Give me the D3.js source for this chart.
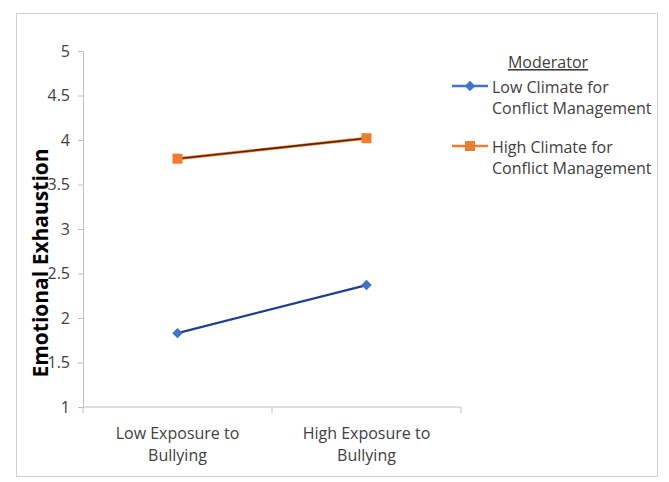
<!DOCTYPE html>
<html>
<head>
<meta charset="utf-8">
<script src="https://cdn.jsdelivr.net/npm/d3@7"></script>
<style>
  body { margin: 0; background: #fff; }
  text { font-family: "Open Sans", "Noto Sans", sans-serif; }
</style>
</head>
<body>
<script>
// Chart data
var categories = ["Low Exposure to Bullying", "High Exposure to Bullying"];
var categoryLines = [["Low Exposure to", "Bullying"], ["High Exposure to", "Bullying"]];
var seriesNames = ["Low Climate for Conflict Management", "High Climate for Conflict Management"];
var seriesLabelLines = [["Low Climate for", "Conflict Management"], ["High Climate for", "Conflict Management"]];
var lowClimate = [1.83, 2.37];
var highClimate = [3.79, 4.02];
var yTicks = [1, 1.5, 2, 2.5, 3, 3.5, 4, 4.5, 5];

(function(){
    var width = 669, height = 482;

    var svg = d3.select('body').append('svg')
        .attr('width', width)
        .attr('height', height);

    // outer chart frame
    svg.append('rect')
        .attr('x', 16.5).attr('y', 13.5)
        .attr('width', 641).attr('height', 463)
        .attr('fill', '#fff')
        .attr('stroke', '#d0d0d0');

    var plot = {left: 83, right: 461, top: 51, bottom: 407};

    var x = d3.scaleBand().domain(categories).range([plot.left, plot.right]);
    var y = d3.scaleLinear().domain([1, 5]).range([plot.bottom, plot.top]);

    // y axis
    var yAxis = svg.append('g')
        .attr('transform', 'translate(' + plot.left + ',0)')
        .call(d3.axisLeft(y).tickValues(yTicks).tickSize(5).tickPadding(8)
            .tickFormat(function(d){ return d; }));
    yAxis.select('.domain').attr('stroke', '#bfbfbf');
    yAxis.selectAll('.tick line').attr('stroke', '#bfbfbf');
    yAxis.selectAll('.tick text')
        .attr('font-size', 16)
        .attr('fill', '#404040')
        .style('font-family', '"Open Sans", sans-serif');

    // x axis with ticks between categories
    var xg = svg.append('g').attr('transform', 'translate(0,' + plot.bottom + ')');
    xg.append('line')
        .attr('x1', plot.left).attr('x2', plot.right)
        .attr('stroke', '#bfbfbf');
    var edges = [plot.left].concat(categories.map(function(c){ return x(c) + x.bandwidth(); }));
    xg.selectAll('.xtick').data(edges).enter().append('line')
        .attr('x1', function(d){ return d; }).attr('x2', function(d){ return d; })
        .attr('y1', 0).attr('y2', 6)
        .attr('stroke', '#bfbfbf');
    xg.selectAll('.xlabel').data(categories).enter().append('text')
        .attr('text-anchor', 'middle')
        .attr('font-size', 16)
        .attr('fill', '#404040')
        .attr('transform', function(d){ return 'translate(' + (x(d) + x.bandwidth() / 2) + ',0)'; })
        .each(function(d, i){
            var t = d3.select(this);
            categoryLines[i].forEach(function(line, j){
                t.append('tspan').attr('x', 0).attr('y', 32 + j * 22).text(line);
            });
        });

    // y axis title
    svg.append('text')
        .attr('transform', 'translate(48,' + 263 + ') rotate(-90)')
        .attr('text-anchor', 'middle')
        .attr('font-size', 21)
        .attr('font-weight', 'bold')
        .attr('fill', '#000')
        .text('Emotional Exhaustion');

    var cx = function(i){ return x(categories[i]) + x.bandwidth() / 2; };
    var line = d3.line()
        .x(function(d, i){ return cx(i); })
        .y(function(d){ return y(d); });

    // high climate series: orange halo with dark core
    svg.append('path').datum(highClimate)
        .attr('d', line).attr('fill', 'none')
        .attr('stroke', '#ed7d31').attr('stroke-width', 3);
    svg.append('path').datum(highClimate)
        .attr('d', line).attr('fill', 'none')
        .attr('stroke', '#5a2200').attr('stroke-width', 1.6);
    svg.selectAll('.sq').data(highClimate).enter().append('rect')
        .attr('x', function(d, i){ return cx(i) - 5; })
        .attr('y', function(d){ return y(d) - 5; })
        .attr('width', 10).attr('height', 10)
        .attr('fill', '#ed7d31');

    // low climate series
    svg.append('path').datum(lowClimate)
        .attr('d', line).attr('fill', 'none')
        .attr('stroke', '#203f8a').attr('stroke-width', 2.2);
    var diamond = d3.symbol().type(d3.symbolDiamond2).size(70);
    svg.selectAll('.dm').data(lowClimate).enter().append('path')
        .attr('d', diamond)
        .attr('transform', function(d, i){ return 'translate(' + cx(i) + ',' + y(d) + ')'; })
        .attr('fill', '#4472c4');

    // legend
    var lg = svg.append('g');
    lg.append('text')
        .attr('x', 548).attr('y', 68)
        .attr('text-anchor', 'middle')
        .attr('font-size', 16)
        .attr('fill', '#404040')
        .attr('text-decoration', 'underline')
        .text('Moderator');

    var legendY = [86, 146];
    var legendColors = [{line: '#4472c4', mark: '#4472c4'}, {line: '#ed7d31', mark: '#ed7d31'}];
    seriesNames.forEach(function(name, i){
        var gy = legendY[i];
        lg.append('line')
            .attr('x1', 452).attr('x2', 488)
            .attr('y1', gy).attr('y2', gy)
            .attr('stroke', legendColors[i].line).attr('stroke-width', 2.5);
        if (i === 0) {
            lg.append('path').attr('d', diamond)
                .attr('transform', 'translate(470,' + gy + ')')
                .attr('fill', legendColors[i].mark);
        } else {
            lg.append('rect')
                .attr('x', 465).attr('y', gy - 5)
                .attr('width', 10).attr('height', 10)
                .attr('fill', legendColors[i].mark);
        }
        var t = lg.append('text')
            .attr('font-size', 16)
            .attr('fill', '#404040');
        seriesLabelLines[i].forEach(function(l, j){
            t.append('tspan').attr('x', 492).attr('y', gy + 7 + j * 21).text(l);
        });
    });
})();
</script>
</body>
</html>
